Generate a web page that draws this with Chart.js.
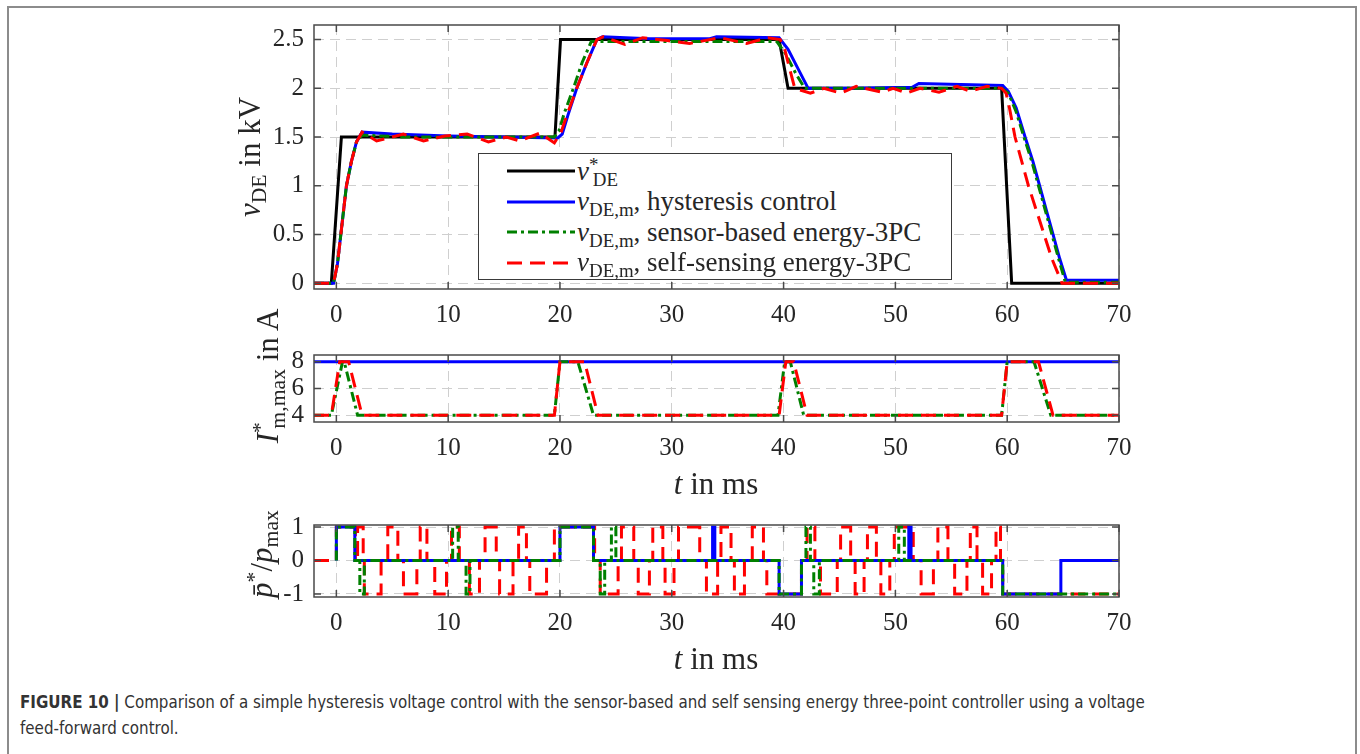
<!DOCTYPE html>
<html>
<head>
<meta charset="utf-8">
<title>Figure 10 - voltage control comparison</title>
<script src="https://cdn.jsdelivr.net/npm/chart.js@4.4.1/dist/chart.umd.min.js"></script>
<style>
  body { margin: 0; background: #fff; }
  #fig { position: relative; width: 1360px; height: 754px; overflow: hidden;
         font-family: 'Liberation Serif', 'Times New Roman', serif; color: #262626; }
  #frame { position: absolute; left: 7px; top: 6px; width: 1346px; height: 780px;
           border: 2px solid #8c8c8c; border-bottom: none; }
  canvas { position: absolute; left: 0; }
  .ylab, .xlab { position: absolute; white-space: nowrap; font-size: 31px; line-height: 1; }
  .ylab { transform: translate(-50%, -50%) rotate(-90deg); }
  .xlab { transform: translate(-50%, -50%); }
  sub { font-size: 0.7em; vertical-align: -0.32em; line-height: 0; }
  sup { font-size: 0.7em; vertical-align: 0.5em; line-height: 0; }
  .back { margin-left: -0.3em; }
  #legend { position: absolute; left: 478px; top: 153px; width: 474px; height: 127px; box-sizing: border-box;
            border: 1.5px solid #3a3a3a; background: #fff; font-size: 27px; padding-top: 2px; }
  .row { height: 30.5px; display: flex; align-items: center; white-space: nowrap; }
  .row svg { margin-left: 28px; margin-right: 2px; flex: none; }
  #caption { position: absolute; left: 20px; top: 689px; width: 1320px; color: #333;
             font-family: 'Liberation Sans Narrow', 'DejaVu Sans Condensed', 'Arial Narrow', sans-serif;
             font-size: 16.8px; line-height: 26px; }
</style>
</head>
<body>
<div id="fig">
  <div id="frame"></div>
  <canvas id="cV" width="1360" height="330" style="top:0"></canvas>
  <canvas id="cI" width="1360" height="170" style="top:330px"></canvas>
  <canvas id="cP" width="1360" height="150" style="top:500px"></canvas>

  <div class="ylab" style="left:249px; top:157px"><i>v</i><sub>DE</sub> in kV</div>
  <div class="ylab" style="left:267px; top:376px"><i>I</i><sup>*</sup><sub class="back">m,max</sub> in A</div>
  <div class="ylab" style="left:261px; top:554px"><i>p&#772;</i><sup>*</sup>/<i>p</i><sub>max</sub></div>
  <div class="xlab" style="left:716px; top:483px"><i>t</i> in ms</div>
  <div class="xlab" style="left:716px; top:658px"><i>t</i> in ms</div>

  <div id="legend">
    <div class="row"><svg width="68" height="8"><line x1="0" y1="4" x2="68" y2="4" stroke="#000000" stroke-width="3"/></svg><span><i>v</i><sup>*</sup><sub class="back">DE</sub></span></div>
    <div class="row"><svg width="68" height="8"><line x1="0" y1="4" x2="68" y2="4" stroke="#0000ff" stroke-width="3"/></svg><span><i>v</i><sub>DE,m</sub>, hysteresis control</span></div>
    <div class="row"><svg width="68" height="8"><line x1="0" y1="4" x2="68" y2="4" stroke="#008000" stroke-width="3" stroke-dasharray="10 4 3 4"/></svg><span><i>v</i><sub>DE,m</sub>, sensor-based energy-3PC</span></div>
    <div class="row"><svg width="68" height="8"><line x1="0" y1="4" x2="68" y2="4" stroke="#ff0000" stroke-width="3" stroke-dasharray="15 8"/></svg><span><i>v</i><sub>DE,m</sub>, self-sensing energy-3PC</span></div>
  </div>

  <div id="caption"><b>FIGURE 10 |</b> Comparison of a simple hysteresis voltage control with the sensor-based and self sensing energy three-point controller using a voltage<br>feed-forward control.</div>
</div>

<script>
// time axis (ms), shared by all three panels
const xTicks = [0, 10, 20, 30, 40, 50, 60, 70];
const xLabels = ['0', '10', '20', '30', '40', '50', '60', '70'];

// panel 1: DC-link voltage in kV
const vTicks = [0, 0.5, 1, 1.5, 2, 2.5];
const vLabels = ['0', '0.5', '1', '1.5', '2', '2.5'];
const tRef = [-2, -0.45, 0.45, 19.55, 20.05, 39.6, 40.4, 59.5, 60.4, 70];
const vRef = [0, 0, 1.5, 1.5, 2.5, 2.5, 2.0, 2.0, 0, 0];
const tHyst = [-2, -0.25, 0.1, 0.4, 0.9, 1.35, 1.8, 2.3, 5, 10, 15, 19.8, 20.2, 20.7, 21.5, 22.4, 23.3, 23.8, 28, 33.4, 34.0, 39.6, 40.4, 41.3, 42.2, 46, 51.5, 52.1, 59.6, 60.1, 60.8, 61.6, 62.3, 62.9, 63.5, 64.1, 64.7, 65.3, 70];
const vHyst = [0, 0, 0.2, 0.5, 1.0, 1.25, 1.45, 1.55, 1.53, 1.51, 1.5, 1.49, 1.53, 1.72, 2.0, 2.26, 2.5, 2.53, 2.51, 2.51, 2.53, 2.52, 2.4, 2.2, 2.0, 2.0, 2.01, 2.05, 2.03, 1.97, 1.8, 1.5, 1.25, 1.0, 0.75, 0.5, 0.25, 0.03, 0.03];
const tSens = [-2, -0.25, 0.1, 0.4, 0.9, 1.35, 1.8, 2.3, 6, 12, 19.5, 19.9, 20.4, 21.2, 22.0, 22.8, 24, 30, 39.4, 40.2, 41.1, 41.9, 45, 52, 59.5, 60.1, 60.8, 61.5, 62.2, 62.8, 63.4, 64.0, 64.6, 65.2, 70];
const vSens = [0, 0, 0.2, 0.5, 1.0, 1.25, 1.45, 1.52, 1.5, 1.5, 1.5, 1.56, 1.75, 2.0, 2.27, 2.48, 2.48, 2.48, 2.48, 2.35, 2.15, 2.0, 2.0, 2.0, 2.0, 1.95, 1.76, 1.5, 1.25, 1.0, 0.75, 0.5, 0.25, 0.01, 0.01];
const tSelf = [-2, -0.25, 0.1, 0.4, 0.9, 1.35, 1.8, 2.3, 3.6, 6.0, 7.8, 9.7, 11.7, 13.6, 15.2, 16.4, 18.2, 19.5, 20.1, 20.7, 21.5, 22.4, 23.3, 23.9, 25.8, 27.4, 29.6, 31.6, 34.3, 36.7, 38.6, 39.7, 40.1, 40.5, 41.0, 42.4, 43.6, 45.1, 46.5, 48.8, 49.8, 51.0, 52.2, 53.9, 55.5, 56.7, 58.2, 59.5, 59.9, 60.2, 60.7, 61.3, 61.9, 62.6, 63.3, 64.0, 64.9, 70];
const vSelf = [0, 0, 0.2, 0.5, 1.0, 1.25, 1.45, 1.55, 1.46, 1.53, 1.46, 1.51, 1.53, 1.45, 1.5, 1.46, 1.54, 1.44, 1.55, 1.75, 2.0, 2.26, 2.5, 2.53, 2.45, 2.52, 2.49, 2.46, 2.52, 2.46, 2.52, 2.5, 2.4, 2.22, 2.0, 1.95, 2.0, 1.95, 2.02, 1.96, 2.0, 1.95, 2.0, 1.96, 2.02, 1.97, 2.02, 2.0, 1.95, 1.8, 1.5, 1.25, 1.0, 0.75, 0.5, 0.25, 0.0, 0.0];

// panel 2: current limit in A
const iTicks = [4, 6, 8];
const iLabels = ['4', '6', '8'];
const tIHyst = [-2, 70];
const vIHyst = [8, 8];
const tISens = [-2, -0.45, 0.55, 0.7, 1.9, 19.5, 20.0, 21.6, 23.0, 39.5, 40.1, 40.6, 41.8, 59.5, 60.0, 62.4, 63.9, 70];
const vISens = [4, 4, 8, 8, 4, 4, 8, 8, 4, 4, 8, 8, 4, 4, 8, 8, 4, 4];
const tISelf = [-2, -0.45, 0.3, 1.1, 2.3, 19.5, 20.0, 22.2, 23.4, 39.6, 40.2, 40.9, 42.1, 59.5, 60.0, 62.8, 64.1, 70];
const vISelf = [4, 4, 8, 8, 4, 4, 8, 8, 4, 4, 8, 8, 4, 4, 8, 8, 4, 4];

// panel 3: normalised power command (switching instants, value held until the next one)
const pTicks = [-1, 0, 1];
const pLabels = ['-1', '0', '1'];
const tPHyst = [0, 0, 1.65, 20.0, 23.0, 33.65, 33.85, 39.6, 41.6, 51.2, 51.4, 59.6, 64.8, 70];
const vPHyst = [0, 1, 0, 1, 0, 1, 0, -1, 0, 1, 0, -1, 0, 0];
const tPSens = [0, 0, 1.65, 2.1, 2.5, 10.4, 10.9, 11.6, 11.95, 20.0, 23.0, 23.6, 24.0, 24.6, 25.0, 39.6, 41.6, 42.0, 42.4, 42.7, 43.2, 50.3, 50.8, 59.6, 70];
const vPSens = [0, 1, 0, -1, 0, 1, 0, -1, 0, 1, 0, -1, 0, 1, 0, -1, 0, 1, 0, -1, 0, 1, 0, -1, -1];
const tPSelf = [-2, 0, 1.7, 1.9, 2.4, 2.5, 4.0, 4.6, 5.5, 6.0, 7.2, 7.5, 8.1, 8.8, 9.85, 10.3, 11.0, 11.9, 12.8, 13.3, 14.3, 14.6, 15.8, 16.3, 17.0, 17.3, 18.8, 19.5, 23.1, 23.6, 25.2, 25.5, 26.6, 27.0, 28.0, 28.3, 29.2, 29.4, 30.2, 30.6, 32.5, 33.1, 34.1, 34.4, 35.3, 35.6, 36.5, 37.2, 38.2, 38.5, 41.6, 42.1, 42.8, 43.3, 44.8, 45.1, 46.0, 46.4, 47.2, 47.5, 48.3, 48.7, 49.5, 49.9, 51.6, 52.3, 53.4, 53.8, 54.7, 55.3, 56.4, 56.7, 57.3, 57.8, 58.6, 59.0, 59.4, 59.6, 70];
const vPSelf = [0, 1, 0, 1, 0, -1, 0, 1, 0, -1, 0, 1, 0, -1, 0, 1, 0, -1, 0, 1, 0, -1, 0, 1, 0, -1, 0, 1, 0, -1, 0, 1, 0, -1, 0, 1, 0, -1, 0, 1, 0, -1, 0, 1, 0, -1, 0, 1, 0, -1, 0, 1, 0, -1, 0, 1, 0, -1, 0, 1, 0, -1, 0, 1, 0, -1, 0, 1, 0, -1, 0, 1, 0, -1, 0, 1, 0, -1, -1];

const BLACK = '#000000', BLUE = '#0000ff', GREEN = '#008000', RED = '#ff0000';
const DASH_GREEN = [10, 4, 3, 4];
const DASH_RED = [15, 8];
const SERIF = 'Liberation Serif';
const tickFont = { family: SERIF, size: 25 };

const pts = (t, v) => t.map((x, i) => ({ x, y: v[i] }));

// closed axes box with short inward ticks on all four sides
const boxTicks = {
  id: 'boxTicks',
  afterDatasetsDraw(chart) {
    const { ctx, chartArea: a, scales: { x, y } } = chart;
    ctx.save();
    ctx.strokeStyle = '#4a4a4a';
    ctx.lineWidth = 1.5;
    ctx.setLineDash([]);
    ctx.strokeRect(a.left, a.top, a.right - a.left, a.bottom - a.top);
    ctx.beginPath();
    x.ticks.forEach(t => {
      const px = x.getPixelForValue(t.value);
      ctx.moveTo(px, a.bottom); ctx.lineTo(px, a.bottom - 7);
      ctx.moveTo(px, a.top); ctx.lineTo(px, a.top + 7);
    });
    y.ticks.forEach(t => {
      const py = y.getPixelForValue(t.value);
      ctx.moveTo(a.left, py); ctx.lineTo(a.left + 7, py);
      ctx.moveTo(a.right, py); ctx.lineTo(a.right - 7, py);
    });
    ctx.stroke();
    ctx.restore();
  }
};

function line(t, v, color, dash, order, stepped) {
  return {
    data: pts(t, v), borderColor: color, borderWidth: 3, borderDash: dash || [],
    pointRadius: 0, tension: 0, fill: false, order, stepped: stepped ? 'before' : false
  };
}

function panel(id, datasets, yMin, yMax, yTicks, yLabels, padTop, padBottom) {
  return new Chart(document.getElementById(id), {
    type: 'line',
    data: { datasets },
    options: {
      responsive: false,
      animation: false,
      layout: { padding: { left: 0, right: 241, top: padTop, bottom: padBottom } },
      plugins: { legend: { display: false }, tooltip: { enabled: false } },
      scales: {
        x: {
          type: 'linear', min: -2, max: 70,
          afterBuildTicks: s => { s.ticks = xTicks.map(v => ({ value: v })); },
          afterFit: s => { s.height = 40; },
          ticks: { font: tickFont, color: '#262626', padding: 11, maxRotation: 0, autoSkip: false,
                   callback: v => xLabels[xTicks.indexOf(v)] },
          grid: { color: '#cfcfcf', lineWidth: 1, drawTicks: false },
          border: { display: false, dash: [10, 6] }
        },
        y: {
          type: 'linear', min: yMin, max: yMax,
          afterBuildTicks: s => { s.ticks = yTicks.map(v => ({ value: v })); },
          afterFit: s => { s.width = 314; },
          ticks: { font: tickFont, color: '#262626', padding: 10, autoSkip: false,
                   callback: v => yLabels[yTicks.indexOf(v)] },
          grid: { color: '#cfcfcf', lineWidth: 1, drawTicks: false },
          border: { display: false, dash: [10, 6] }
        }
      }
    },
    plugins: [boxTicks]
  });
}

function build() {
  Chart.defaults.font.family = SERIF;

  panel('cV', [
    line(tRef, vRef, BLACK, null, 4),
    line(tHyst, vHyst, BLUE, null, 3),
    line(tSens, vSens, GREEN, DASH_GREEN, 2),
    line(tSelf, vSelf, RED, DASH_RED, 1)
  ], -0.06, 2.65, vTicks, vLabels, 25, 1);

  panel('cI', [
    line(tIHyst, vIHyst, BLUE, null, 3),
    line(tISens, vISens, GREEN, DASH_GREEN, 2),
    line(tISelf, vISelf, RED, DASH_RED, 1)
  ], 3.5, 8.5, iTicks, iLabels, 8, 38);

  panel('cP', [
    line(tPSelf, vPSelf, RED, DASH_RED, 3, true),
    line(tPHyst, vPHyst, BLUE, null, 2, true),
    line(tPSens, vPSens, GREEN, DASH_GREEN, 1, true)
  ], -1.09, 1.06, pTicks, pLabels, 13, 13);
}

// make sure the serif face is ready before the canvases render their tick labels
document.fonts.load('25px "' + SERIF + '"').then(build, build);
</script>
</body>
</html>
